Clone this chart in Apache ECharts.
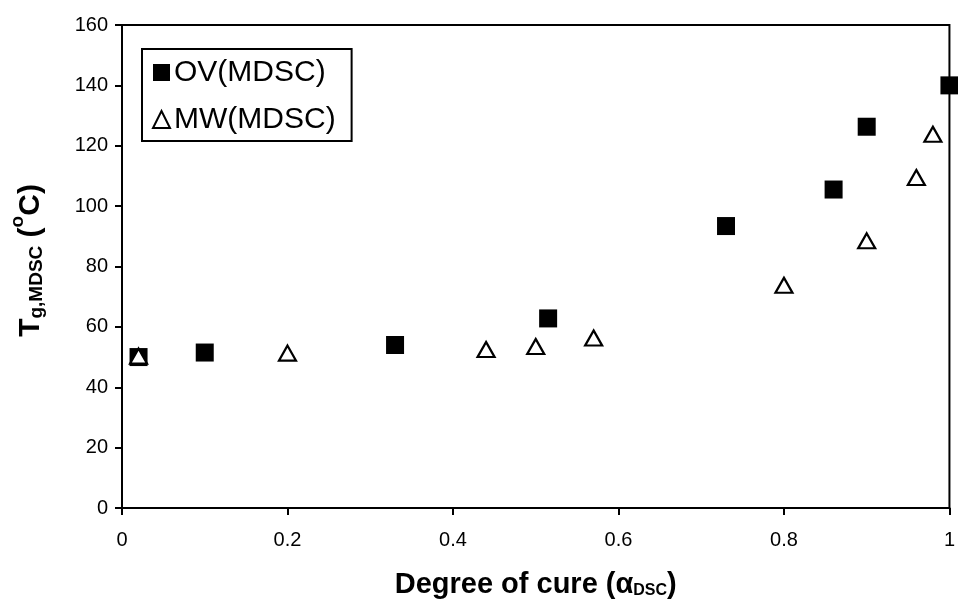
<!DOCTYPE html>
<html><head><meta charset="utf-8">
<script src="https://cdn.jsdelivr.net/npm/echarts@6/dist/echarts.min.js"></script>
<style>html,body{margin:0;padding:0;background:#fff}#c{width:958px;height:612px}</style>
</head><body><div id="c"></div>
<script>
const ovX = [0.02, 0.10, 0.33, 0.515, 0.73, 0.86, 0.90, 1.0];
const ovY = [50, 51.5, 54, 62.8, 93.4, 105.5, 126.3, 140];
const mwX = [0.02, 0.20, 0.44, 0.50, 0.57, 0.80, 0.90, 0.96, 0.98];
const mwY = [50.3, 51.3, 52.5, 53.5, 56.3, 73.8, 88.5, 109.5, 123.8];
const xTicks = [0, 0.2, 0.4, 0.6, 0.8, 1];
const yTicks = [0, 20, 40, 60, 80, 100, 120, 140, 160];

const FONT = '"Liberation Sans", Arial, sans-serif';
const chart = echarts.init(document.getElementById('c'));
chart.setOption({
  animation: false,
  grid: {left: 120, right: 4, top: 25, bottom: 104, show: true, borderColor: '#000', borderWidth: 2, backgroundColor: 'transparent'},
  legend: {
    orient: 'vertical', left: 142, top: 49, itemGap: 14, itemWidth: 17, itemHeight: 17,
    padding: [7, 16, 5, 10], borderColor: '#000', borderWidth: 2,
    textStyle: {fontFamily: FONT, fontSize: 30, lineHeight: 33, color: '#000', padding: [0, 0, 0, -1]},
    data: ['OV(MDSC)', 'MW(MDSC)']
  },
  xAxis: {
    type: 'value', min: 0, max: 1, interval: 0.2,
    axisLine: {show: true, lineStyle: {color: '#000', width: 2}},
    axisTick: {show: true, inside: false, length: 7, lineStyle: {color: '#000', width: 2}},
    splitLine: {show: false},
    axisLabel: {fontFamily: FONT, fontSize: 20, color: '#000', margin: 22,
      formatter: v => { const t = xTicks.find(x => Math.abs(x - v) < 1e-9); return t === undefined ? '' : String(t); }},
    name: '{a|Degree of cure (}{g|α}{s|DSC}{a|)}',
    nameLocation: 'middle', nameGap: 57,
    nameTextStyle: {
      rich: {
        a: {fontFamily: FONT, fontSize: 29, fontWeight: 'bold', color: '#000', verticalAlign: 'bottom', lineHeight: 34},
        g: {fontFamily: FONT, fontSize: 29, fontWeight: 'bold', color: '#000', verticalAlign: 'bottom', lineHeight: 34},
        s: {fontFamily: FONT, fontSize: 16, fontWeight: 'bold', color: '#000', verticalAlign: 'bottom', lineHeight: 26}
      }
    }
  },
  yAxis: {
    type: 'value', min: 0, max: 160, interval: 20,
    axisLine: {show: true, lineStyle: {color: '#000', width: 2}},
    axisTick: {show: true, inside: false, length: 7, lineStyle: {color: '#000', width: 2}},
    splitLine: {show: false},
    axisLabel: {fontFamily: FONT, fontSize: 20, color: '#000', margin: 14,
      formatter: v => { const t = yTicks.find(x => Math.abs(x - v) < 1e-9); return t === undefined ? '' : String(t); }},
    name: '{e|}{a|T}{s|g,MDSC}{a| (}{p|o}{a|C)}',
    nameLocation: 'middle', nameGap: 76, nameRotate: 90,
    nameTextStyle: {
      rich: {
        a: {fontFamily: FONT, fontSize: 30, fontWeight: 'bold', color: '#000', verticalAlign: 'bottom', lineHeight: 36},
        s: {fontFamily: FONT, fontSize: 19, fontWeight: 'bold', color: '#000', verticalAlign: 'bottom', lineHeight: 28},
        p: {fontFamily: FONT, fontSize: 19, fontWeight: 'bold', color: '#000', verticalAlign: 'top', lineHeight: 38},
        e: {width: 12}
      }
    }
  },
  series: [
    {
      name: 'OV(MDSC)', type: 'scatter', symbol: 'rect', symbolSize: 18, clip: false,
      itemStyle: {color: '#000', opacity: 1},
      data: ovX.map((x, i) => [x, ovY[i]])
    },
    {
      name: 'MW(MDSC)', type: 'scatter', symbol: 'triangle', symbolSize: [17, 15], clip: false,
      itemStyle: {color: '#fff', borderColor: '#000', borderWidth: 2.2, opacity: 1},
      data: mwX.map((x, i) => [x, mwY[i]])
    }
  ]
});
</script></body></html>
